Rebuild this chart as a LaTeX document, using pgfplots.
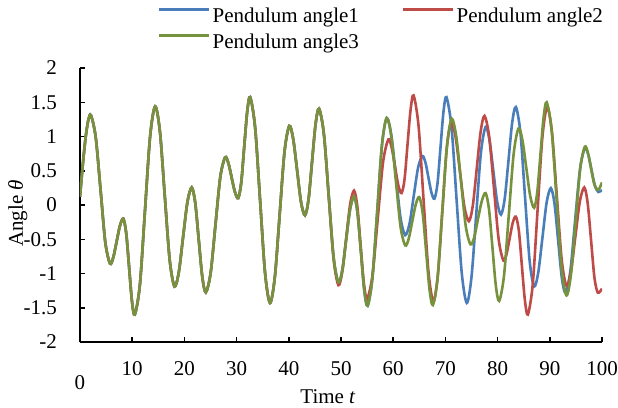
\documentclass[border=0pt]{standalone}
\usepackage{fontspec}
\setmainfont{Liberation Serif}
\usepackage{pgfplots}
\pgfplotsset{compat=1.18}

\definecolor{sblue}{RGB}{74,126,187}
\definecolor{sred}{RGB}{190,75,72}
\definecolor{sgreen}{RGB}{118,146,60}
\newcommand\bigfont{\fontsize{21}{25}\selectfont}

\begin{document}
\begin{tikzpicture}
\begin{axis}[
    scale only axis,
    width=522pt, height=274pt,
    xmin=0, xmax=100, ymin=-2, ymax=2,
    axis lines=left,
    axis line style={-, line width=1.5pt},
    xtick={0,10,...,100},
    xticklabels={\raisebox{-14pt}{0},10,20,30,40,50,60,70,80,90,100},
    ytick={-2,-1.5,...,2},
    tick align=inside,
    major tick length=5pt,
    tick style={black, line width=1.5pt},
    /pgf/number format/assume math mode=true,
    tick label style={font=\bigfont, inner sep=0pt},
    xticklabel style={anchor=base, yshift=-33pt},
    yticklabel style={anchor=east, xshift=-23pt},
    xlabel={Time \textit{t}},
    ylabel={Angle \textit{θ}},
    label style={font=\bigfont},
    xlabel style={at={(axis description cs:0.475,-0.226)}, anchor=base},
    ylabel style={at={(axis description cs:-0.119,0.47)}, anchor=center},
    legend columns=2,
    legend cell align=left,
    legend style={font=\bigfont, draw=none, fill=none, inner sep=0pt,
        at={(axis description cs:0.149,1.229)}, anchor=north west,
        nodes={inner sep=2pt}, row sep=6pt,
        /tikz/every even column/.append style={column sep=41pt}},
    legend image code/.code={\draw[#1] (0pt,6pt) -- (50pt,6pt);},
    every axis plot/.append style={line width=2.6pt, smooth},
]
% pendulum 1
\addplot[sblue] coordinates {
(0,0.12) (0.55,0.6) (1.1,1.0) (1.6,1.24) (2.1,1.31)
(3.01,0.99) (3.93,0.23) (4.84,-0.54) (5.75,-0.855)
(6.39,-0.76) (7.03,-0.53) (7.66,-0.30) (8.3,-0.20)
(8.85,-0.41) (9.4,-0.90) (9.95,-1.40) (10.5,-1.60)
(11.48,-1.16) (12.45,-0.08) (13.43,1.0) (14.4,1.44)
(15.33,1.06) (16.25,0.125) (17.18,-0.80) (18.1,-1.19)
(18.93,-0.98) (19.75,-0.467) (20.58,0.044) (21.4,0.256)
(22.08,0.03) (22.75,-0.51) (23.43,-1.05) (24.1,-1.275)
(25.03,-0.99) (25.95,-0.29) (26.88,0.41) (27.8,0.696)
(28.43,0.61) (29.05,0.40) (29.68,0.19) (30.3,0.10)
(30.88,0.32) (31.45,0.84) (32.03,1.36) (32.6,1.575)
(33.55,1.13) (34.5,0.07) (35.45,-0.99) (36.4,-1.43)
(37.33,-1.05) (38.25,-0.14) (39.18,0.78) (40.1,1.155)
(40.85,0.96) (41.6,0.50) (42.35,0.04) (43.1,-0.15)
(43.78,0.08) (44.45,0.63) (45.13,1.18) (45.8,1.405)
(46.73,1.03) (47.65,0.14) (48.58,-0.76) (49.5,-1.13)
(50.25,-0.95) (51.0,-0.50) (51.75,-0.06) (52.5,0.125)
(53.15,-0.11) (53.8,-0.67) (54.45,-1.24) (55.1,-1.47)
(56.01,-1.07) (56.93,-0.10) (57.84,0.87) (58.75,1.27)
(59.64,1.02) (60.53,0.415) (61.41,-0.19) (62.3,-0.44)
(63.13,-0.27) (63.95,0.14) (64.78,0.55) (65.6,0.715)
(66.18,0.62) (66.75,0.40) (67.33,0.18) (67.9,0.092)
(68.48,0.31) (69.05,0.83) (69.63,1.36) (70.2,1.575)
(71.18,1.13) (72.15,0.07) (73.13,-0.99) (74.1,-1.43)
(75.0,-1.05) (75.9,-0.145) (76.8,0.76) (77.7,1.14)
(78.44,0.95) (79.18,0.50) (79.91,0.05) (80.65,-0.14)
(81.36,0.09) (82.08,0.645) (82.79,1.2) (83.5,1.43)
(84.38,1.05) (85.25,0.12) (86.13,-0.81) (87.0,-1.19)
(87.8,-0.98) (88.6,-0.47) (89.4,0.04) (90.2,0.246)
(90.9,0.02) (91.6,-0.52) (92.3,-1.06) (93.0,-1.28)
(93.93,-0.97) (94.85,-0.225) (95.78,0.52) (96.7,0.83)
(97.35,0.74) (98.0,0.51) (98.65,0.28) (99.3,0.19) (100,0.22)
};
% pendulum 2
\addplot[sred] coordinates {
(0,0.12) (0.55,0.6) (1.1,1.0) (1.6,1.24) (2.1,1.31)
(3.01,0.99) (3.93,0.23) (4.84,-0.54) (5.75,-0.855)
(6.39,-0.76) (7.03,-0.53) (7.66,-0.30) (8.3,-0.20)
(8.85,-0.41) (9.4,-0.90) (9.95,-1.40) (10.5,-1.60)
(11.48,-1.16) (12.45,-0.08) (13.43,1.0) (14.4,1.44)
(15.33,1.06) (16.25,0.125) (17.18,-0.80) (18.1,-1.19)
(18.93,-0.98) (19.75,-0.467) (20.58,0.044) (21.4,0.256)
(22.08,0.03) (22.75,-0.51) (23.43,-1.05) (24.1,-1.275)
(25.03,-0.99) (25.95,-0.29) (26.88,0.41) (27.8,0.696)
(28.43,0.61) (29.05,0.40) (29.68,0.19) (30.3,0.10)
(30.88,0.32) (31.45,0.84) (32.03,1.36) (32.6,1.575)
(33.55,1.13) (34.5,0.07) (35.45,-0.99) (36.4,-1.43)
(37.33,-1.05) (38.25,-0.14) (39.18,0.78) (40.1,1.155)
(40.85,0.96) (41.6,0.50) (42.35,0.04) (43.1,-0.15)
(43.78,0.08) (44.45,0.63) (45.13,1.18) (45.8,1.405)
(46.73,1.03) (47.65,0.12) (48.58,-0.79) (49.5,-1.17)
(50.25,-0.97) (51.0,-0.48) (51.75,0.01) (52.5,0.21)
(53.13,-0.02) (53.75,-0.58) (54.38,-1.14) (55.0,-1.37)
(56.02,-1.03) (57.03,-0.21) (58.05,0.62) (59.06,0.957)
(59.7,0.84) (60.33,0.57) (60.97,0.29) (61.6,0.174)
(62.18,0.38) (62.75,0.89) (63.33,1.39) (63.9,1.60)
(64.85,1.16) (65.8,0.095) (66.75,-0.97) (67.7,-1.41)
(68.55,-1.03) (69.4,-0.105) (70.25,0.82) (71.1,1.2)
(71.95,0.99) (72.8,0.48) (73.65,-0.03) (74.5,-0.237)
(75.25,-0.01) (76.0,0.53) (76.75,1.07) (77.5,1.30)
(78.4,0.99) (79.3,0.245) (80.2,-0.50) (81.1,-0.81)
(81.7,-0.72) (82.3,-0.49) (82.9,-0.26) (83.5,-0.17)
(84.08,-0.38) (84.65,-0.885) (85.23,-1.39) (85.8,-1.60)
(86.73,-1.16) (87.65,-0.085) (88.58,0.99) (89.5,1.43)
(90.43,1.05) (91.35,0.125) (92.28,-0.80) (93.2,-1.18)
(94.05,-0.97) (94.9,-0.46) (95.75,0.05) (96.6,0.256)
(97.25,0.03) (97.9,-0.51) (98.55,-1.06) (99.2,-1.28) (100,-1.22)
};
% pendulum 3
\addplot[sgreen] coordinates {
(0,0.12) (0.55,0.6) (1.1,1.0) (1.6,1.24) (2.1,1.31)
(3.01,0.99) (3.93,0.23) (4.84,-0.54) (5.75,-0.855)
(6.39,-0.76) (7.03,-0.53) (7.66,-0.30) (8.3,-0.20)
(8.85,-0.41) (9.4,-0.90) (9.95,-1.40) (10.5,-1.60)
(11.48,-1.16) (12.45,-0.08) (13.43,1.0) (14.4,1.44)
(15.33,1.06) (16.25,0.125) (17.18,-0.80) (18.1,-1.19)
(18.93,-0.98) (19.75,-0.467) (20.58,0.044) (21.4,0.256)
(22.08,0.03) (22.75,-0.51) (23.43,-1.05) (24.1,-1.275)
(25.03,-0.99) (25.95,-0.29) (26.88,0.41) (27.8,0.696)
(28.43,0.61) (29.05,0.40) (29.68,0.19) (30.3,0.10)
(30.88,0.32) (31.45,0.84) (32.03,1.36) (32.6,1.575)
(33.55,1.13) (34.5,0.07) (35.45,-0.99) (36.4,-1.43)
(37.33,-1.05) (38.25,-0.14) (39.18,0.78) (40.1,1.155)
(40.85,0.96) (41.6,0.50) (42.35,0.04) (43.1,-0.15)
(43.78,0.08) (44.45,0.63) (45.13,1.18) (45.8,1.405)
(46.73,1.03) (47.65,0.14) (48.58,-0.76) (49.5,-1.13)
(50.25,-0.95) (51.0,-0.50) (51.75,-0.06) (52.5,0.125)
(53.15,-0.11) (53.8,-0.67) (54.45,-1.24) (55.1,-1.47)
(56.01,-1.07) (56.93,-0.10) (57.84,0.87) (58.75,1.27)
(59.64,1.0) (60.53,0.34) (61.41,-0.32) (62.3,-0.59)
(62.98,-0.49) (63.65,-0.24) (64.33,0.01) (65.0,0.116)
(65.65,-0.12) (66.3,-0.67) (66.95,-1.23) (67.6,-1.46)
(68.5,-1.06) (69.4,-0.10) (70.3,0.86) (71.2,1.26)
(72.1,0.99) (73.0,0.34) (73.9,-0.31) (74.8,-0.575)
(75.53,-0.47) (76.25,-0.20) (76.98,0.06) (77.7,0.174)
(78.35,-0.06) (79.0,-0.61) (79.65,-1.17) (80.3,-1.40)
(81.23,-1.03) (82.15,-0.14) (83.08,0.75) (84.0,1.116)
(84.75,0.95) (85.5,0.54) (86.25,0.13) (87.0,-0.04)
(87.6,0.19) (88.2,0.73) (88.8,1.27) (89.4,1.50)
(90.35,1.09) (91.3,0.09) (92.25,-0.91) (93.2,-1.32)
(94.08,-1.0) (94.95,-0.235) (95.83,0.53) (96.7,0.85)
(97.3,0.76) (97.9,0.535) (98.5,0.31) (99.1,0.22) (99.55,0.25) (100,0.33)
};
\legend{Pendulum angle1, Pendulum angle2, Pendulum angle3}
\end{axis}
\pgfresetboundingbox
\path (-80pt,-65pt) rectangle (538pt,342pt);
\end{tikzpicture}
\end{document}
